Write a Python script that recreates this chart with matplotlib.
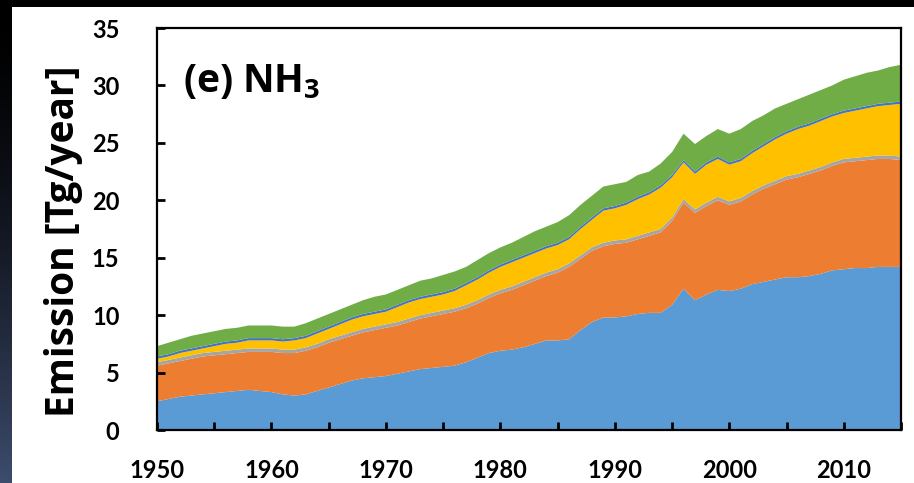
import numpy as np
import matplotlib
matplotlib.use("Agg")
import matplotlib.pyplot as plt
from matplotlib.patches import Rectangle

years = list(range(1950, 2016))

# cumulative tops of each stacked layer (Tg/year)
blue_top = [2.5, 2.7, 2.9, 3.0, 3.1, 3.2, 3.3, 3.4, 3.5, 3.4,
            3.3, 3.1, 3.0, 3.1, 3.4, 3.7, 4.0, 4.3, 4.5, 4.6,
            4.7, 4.9, 5.1, 5.3, 5.4, 5.5, 5.6, 5.9, 6.3, 6.7,
            6.9, 7.0, 7.2, 7.5, 7.8, 7.8, 7.9, 8.7, 9.4, 9.8,
            9.8, 9.9, 10.1, 10.2, 10.2, 10.9, 12.3, 11.3, 11.8, 12.2,
            12.1, 12.3, 12.7, 12.9, 13.1, 13.3, 13.3, 13.4, 13.6, 13.9,
            14.0, 14.1, 14.1, 14.2, 14.2, 14.2]
orange_top = [5.6, 5.8, 6.0, 6.2, 6.4, 6.5, 6.6, 6.7, 6.8, 6.8,
              6.8, 6.7, 6.7, 6.9, 7.2, 7.6, 7.9, 8.2, 8.5, 8.7,
              8.9, 9.1, 9.4, 9.7, 9.9, 10.1, 10.3, 10.6, 11.0, 11.5,
              11.9, 12.2, 12.6, 13.0, 13.4, 13.7, 14.2, 14.9, 15.6, 16.0,
              16.2, 16.3, 16.6, 16.9, 17.2, 18.2, 19.8, 18.9, 19.5, 20.0,
              19.6, 19.9, 20.5, 21.0, 21.4, 21.8, 22.0, 22.3, 22.6, 23.0,
              23.3, 23.4, 23.5, 23.6, 23.6, 23.5]
gray_top = [5.9, 6.1, 6.3, 6.5, 6.7, 6.8, 6.9, 7.0, 7.1, 7.1,
            7.1, 7.0, 7.0, 7.2, 7.5, 7.9, 8.2, 8.5, 8.8, 9.0,
            9.2, 9.4, 9.7, 10.0, 10.2, 10.4, 10.6, 10.9, 11.3, 11.8,
            12.2, 12.5, 12.9, 13.3, 13.7, 14.0, 14.5, 15.2, 15.9, 16.3,
            16.5, 16.6, 16.9, 17.2, 17.5, 18.5, 20.1, 19.2, 19.8, 20.3,
            19.9, 20.2, 20.8, 21.3, 21.7, 22.1, 22.3, 22.6, 22.9, 23.3,
            23.6, 23.7, 23.8, 23.9, 23.9, 23.8]
yellow_top = [6.2, 6.4, 6.7, 6.9, 7.1, 7.3, 7.5, 7.6, 7.8, 7.8,
              7.8, 7.7, 7.8, 8.0, 8.4, 8.8, 9.2, 9.6, 9.9, 10.1,
              10.3, 10.7, 11.1, 11.4, 11.6, 11.8, 12.1, 12.6, 13.1, 13.7,
              14.2, 14.6, 15.0, 15.4, 15.8, 16.1, 16.6, 17.5, 18.3, 19.1,
              19.3, 19.6, 20.1, 20.5, 21.1, 22.0, 23.3, 22.3, 23.1, 23.6,
              23.1, 23.4, 24.1, 24.7, 25.3, 25.8, 26.2, 26.5, 26.9, 27.3,
              27.6, 27.8, 28.0, 28.2, 28.3, 28.4]
navy_top = [6.4, 6.6, 6.9, 7.1, 7.3, 7.5, 7.7, 7.8, 8.0, 8.0,
            8.0, 7.9, 8.0, 8.2, 8.6, 9.0, 9.4, 9.8, 10.1, 10.3,
            10.5, 10.9, 11.3, 11.6, 11.8, 12.0, 12.3, 12.8, 13.3, 13.9,
            14.4, 14.8, 15.2, 15.6, 16.0, 16.3, 16.8, 17.7, 18.5, 19.3,
            19.5, 19.8, 20.3, 20.7, 21.3, 22.2, 23.5, 22.5, 23.3, 23.8,
            23.3, 23.6, 24.3, 24.9, 25.5, 26.0, 26.4, 26.7, 27.1, 27.5,
            27.8, 28.0, 28.2, 28.4, 28.5, 28.6]
green_top = [7.3, 7.6, 7.9, 8.2, 8.4, 8.6, 8.8, 8.9, 9.1, 9.1,
             9.1, 9.0, 9.0, 9.3, 9.7, 10.1, 10.5, 10.9, 11.3, 11.6,
             11.8, 12.2, 12.6, 13.0, 13.2, 13.5, 13.8, 14.2, 14.8, 15.4,
             15.9, 16.3, 16.8, 17.3, 17.7, 18.1, 18.7, 19.6, 20.4, 21.2,
             21.4, 21.6, 22.2, 22.5, 23.2, 24.2, 25.8, 24.9, 25.6, 26.2,
             25.8, 26.2, 26.9, 27.4, 28.0, 28.4, 28.8, 29.2, 29.6, 30.0,
             30.5, 30.8, 31.1, 31.3, 31.6, 31.8]

colors = ["#5B9BD5", "#ED7D31", "#A5A5A5", "#FFC000", "#4472C4", "#70AD47"]

tops = np.array([blue_top, orange_top, gray_top, yellow_top, navy_top, green_top])
layers = np.diff(np.vstack([np.zeros(len(years)), tops]), axis=0)

plt.rcParams["font.family"] = ["Lato", "DejaVu Sans"]

fig = plt.figure(figsize=(9.14, 4.83), dpi=100, facecolor="black")

# dark frame: black top strip, left strip fading to slate blue
bg = fig.add_axes([0, 0, 1, 1], zorder=-10)
bg.axis("off")
grad = np.linspace(0, 1, 256) ** 1.6
strip = np.outer(grad, np.ones(2))
bg.imshow(strip[:, :, None] * np.array([0.24, 0.30, 0.43])[None, None, :],
          extent=[0, 12 / 914, 0, 1], aspect="auto", origin="upper",
          transform=fig.transFigure)
bg.set_xlim(0, 1)
bg.set_ylim(0, 1)
fig.patches.append(Rectangle((12 / 914, 0), 1, 1 - 7 / 483, transform=fig.transFigure,
                             facecolor="white", edgecolor="none", zorder=-5))

ax = fig.add_axes([157 / 914, 1 - 430 / 483, 744 / 914, 402 / 483])
ax.stackplot(years, layers, colors=colors, linewidth=0)

ax.set_xlim(1950, 2015)
ax.set_ylim(0, 35)
ax.set_xticks(range(1950, 2015, 10))
ax.set_xticks(range(1955, 2016, 5), minor=True)
ax.set_yticks(range(0, 36, 5))
ax.tick_params(axis="both", which="both", direction="in", length=6, width=2, color="black")
ax.tick_params(axis="x", which="major", pad=21, labelsize=17)
ax.tick_params(axis="y", which="major", pad=27, labelsize=17)
for lab in ax.get_xticklabels() + ax.get_yticklabels():
    lab.set_fontweight("bold")
for s in ax.spines.values():
    s.set_linewidth(1.6)
    s.set_color("black")

ax.set_ylabel("Emission [Tg/year]", fontsize=28, fontweight="bold",
              family=["Open Sans", "DejaVu Sans"])
ax.yaxis.set_label_coords(-0.1, 0.47)
ax.text(0.035, 0.84, r"(e) NH$_\mathregular{3}$", transform=ax.transAxes,
        fontsize=28, fontweight="bold", family=["Open Sans", "DejaVu Sans"],
        va="baseline")

fig.savefig("out.png", dpi=100, facecolor=fig.get_facecolor())
